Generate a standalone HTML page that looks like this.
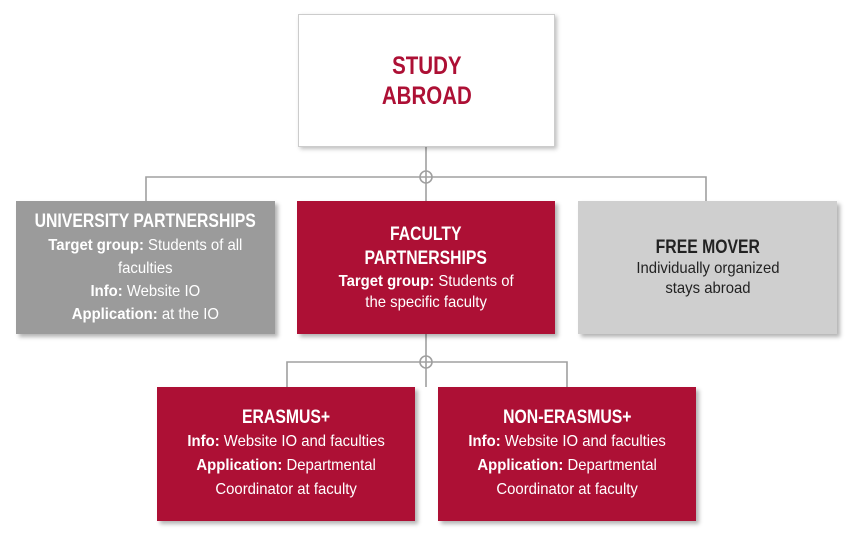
<!DOCTYPE html>
<html><head><meta charset="utf-8"><style>
html,body{margin:0;padding:0;background:#fff;}
body{width:856px;height:539px;position:relative;overflow:hidden;font-family:"Liberation Sans",sans-serif;}
.b{position:absolute;display:flex;flex-direction:column;justify-content:center;align-items:center;text-align:center;box-shadow:3px 3px 4px rgba(0,0,0,0.3);box-sizing:border-box;}
.s{transform:scaleX(.82);white-space:nowrap;}
.r{background:#ad1035;color:#fff;}
.g{background:#9b9b9b;color:#fff;}
.l{background:#cfcfcf;color:#222;}
.t{font-weight:bold;font-size:19px;line-height:24px;transform:scaleX(.83);white-space:nowrap;}
.p{font-size:16px;line-height:23px;transform:scaleX(.93);white-space:nowrap;}
b{font-weight:bold;}
</style></head><body>
<svg width="856" height="539" style="position:absolute;left:0;top:0">
<g stroke="#a0a0a0" stroke-width="1.6" fill="none">
<line x1="426" y1="147" x2="426" y2="201"/>
<polyline points="146,201 146,177 706,177 706,201"/>
<circle cx="426" cy="177" r="6"/>
<line x1="426" y1="334" x2="426" y2="387"/>
<polyline points="287,387 287,362 567,362 567,387"/>
<circle cx="426" cy="362" r="6"/>
</g></svg>
<div class="b" style="left:298px;top:14px;width:257px;height:133px;background:#fff;border:1px solid #ccc;color:#ad1035;box-shadow:2px 2px 4px rgba(0,0,0,0.25)">
<div class="s" style="font-weight:bold;font-size:25px;line-height:30px">STUDY<br>ABROAD</div></div>
<div class="b g" style="left:16px;top:201px;width:259px;height:133px">
<div class="t">UNIVERSITY PARTNERSHIPS</div>
<div class="p"><b>Target group:</b> Students of all<br>faculties<br><b>Info:</b> Website IO<br><b>Application:</b> at the IO</div></div>
<div class="b r" style="left:297px;top:201px;width:258px;height:133px">
<div class="t">FACULTY<br>PARTNERSHIPS</div>
<div class="p" style="line-height:21px"><b>Target group:</b> Students of<br>the specific faculty</div></div>
<div class="b l" style="left:578px;top:201px;width:259px;height:133px">
<div class="t" style="line-height:22px">FREE MOVER</div>
<div class="p" style="line-height:20px">Individually organized<br>stays abroad</div></div>
<div class="b r" style="left:157px;top:387px;width:258px;height:134px">
<div class="t">ERASMUS+</div>
<div class="p" style="line-height:24px"><b>Info:</b> Website IO and faculties<br><b>Application:</b> Departmental<br>Coordinator at faculty</div></div>
<div class="b r" style="left:438px;top:387px;width:258px;height:134px">
<div class="t">NON-ERASMUS+</div>
<div class="p" style="line-height:24px"><b>Info:</b> Website IO and faculties<br><b>Application:</b> Departmental<br>Coordinator at faculty</div></div>
</body></html>
